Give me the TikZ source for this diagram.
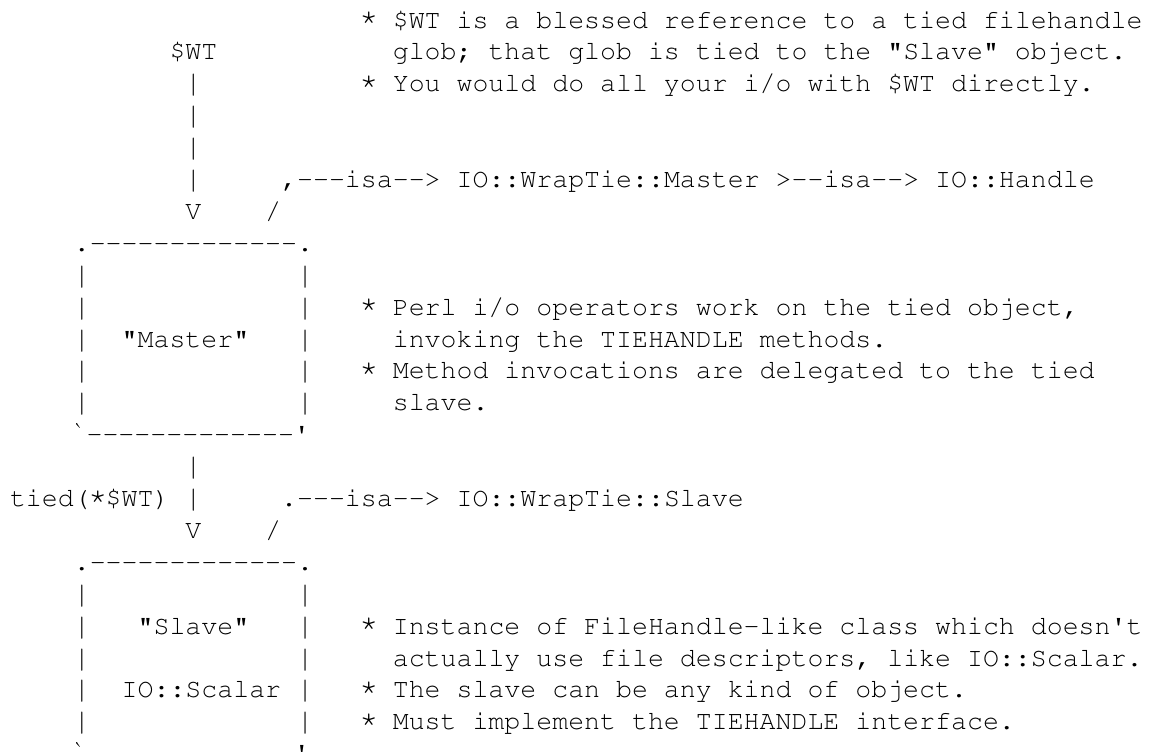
\documentclass[tikz,border=0pt]{standalone}
\usepackage[T1]{fontenc}
\usepackage{courier}
\usepackage{graphicx}
\newcommand\D{-\kern0pt}
\newcommand\dashrow{\D\D\D\D\D\D\D\D\D\D\D\D\D}
\newcommand\vb{\makebox[0.6em][c]{\raisebox{-0.8pt}{\scalebox{1.1}[1.15]{|}}}}
\newcommand\st{\makebox[0.6em][c]{\raisebox{1.6pt}{\scalebox{1.22}{*}}}}
\tikzset{txt/.style={anchor=base west, inner sep=0pt, outer sep=0pt, text=black,
  font=\fontsize{19.94}{24}\selectfont\ttfamily\frenchspacing}}
\newcommand\putt[4]{\node[txt] (#1) at ({10+#3*15.95},{28+(#2-1)*31.9}) {#4};}
\begin{document}
\begin{tikzpicture}[x=0.75pt,y=-0.75pt]
\useasboundingbox[fill=white] (0,0) rectangle (1160,751);
% row, col
\putt{n1}{1}{22}{\st{} \$WT is a blessed reference to a tied filehandle}
\putt{wt}{2}{10}{\$WT}
\putt{n2}{2}{24}{glob; that glob is tied to the "Slave" object.}
\putt{b3}{3}{11}{\vb}
\putt{n3}{3}{22}{\st{} You would do all your i/o with \$WT directly.}
\putt{b4}{4}{11}{\vb}
\putt{b5}{5}{11}{\vb}
\putt{b6}{6}{11}{\vb}
\putt{isa1}{6}{17}{,\D\D\D{}isa\D\D> IO::WrapTie::Master >\D\D{}isa\D\D> IO::Handle}
\putt{v7}{7}{11}{V}
\putt{s7}{7}{16}{/}
\putt{mtop}{8}{4}{.\dashrow.}
\putt{ml9}{9}{4}{\vb}\putt{mr9}{9}{18}{\vb}
\putt{ml10}{10}{4}{\vb}\putt{mr10}{10}{18}{\vb}
\putt{n10}{10}{22}{\st{} Perl i/o operators work on the tied object,}
\putt{ml11}{11}{4}{\vb}\putt{mr11}{11}{18}{\vb}
\putt{master}{11}{7}{"Master"}
\putt{n11}{11}{24}{invoking the TIEHANDLE methods.}
\putt{ml12}{12}{4}{\vb}\putt{mr12}{12}{18}{\vb}
\putt{n12}{12}{22}{\st{} Method invocations are delegated to the tied}
\putt{ml13}{13}{4}{\vb}\putt{mr13}{13}{18}{\vb}
\putt{n13}{13}{24}{slave.}
\putt{mbot}{14}{4}{\textasciigrave\dashrow\textquotesingle}
\putt{b15}{15}{11}{\vb}
\putt{tied}{16}{0}{tied(\st\$WT)}
\putt{b16}{16}{11}{\vb}
\putt{isa2}{16}{17}{.\D\D\D{}isa\D\D> IO::WrapTie::Slave}
\putt{v17}{17}{11}{V}
\putt{s17}{17}{16}{/}
\putt{stop}{18}{4}{.\dashrow.}
\putt{sl19}{19}{4}{\vb}\putt{sr19}{19}{18}{\vb}
\putt{sl20}{20}{4}{\vb}\putt{sr20}{20}{18}{\vb}
\putt{slave}{20}{8}{"Slave"}
\putt{n20}{20}{22}{\st{} Instance of FileHandle-like class which doesn\textquotesingle t}
\putt{sl21}{21}{4}{\vb}\putt{sr21}{21}{18}{\vb}
\putt{n21}{21}{24}{actually use file descriptors, like IO::Scalar.}
\putt{sl22}{22}{4}{\vb}\putt{sr22}{22}{18}{\vb}
\putt{scalar}{22}{7}{IO::Scalar}
\putt{n22}{22}{22}{\st{} The slave can be any kind of object.}
\putt{sl23}{23}{4}{\vb}\putt{sr23}{23}{18}{\vb}
\putt{n23}{23}{22}{\st{} Must implement the TIEHANDLE interface.}
\putt{sbot}{24}{4}{\textasciigrave\dashrow\textquotesingle}
\end{tikzpicture}
\end{document}
